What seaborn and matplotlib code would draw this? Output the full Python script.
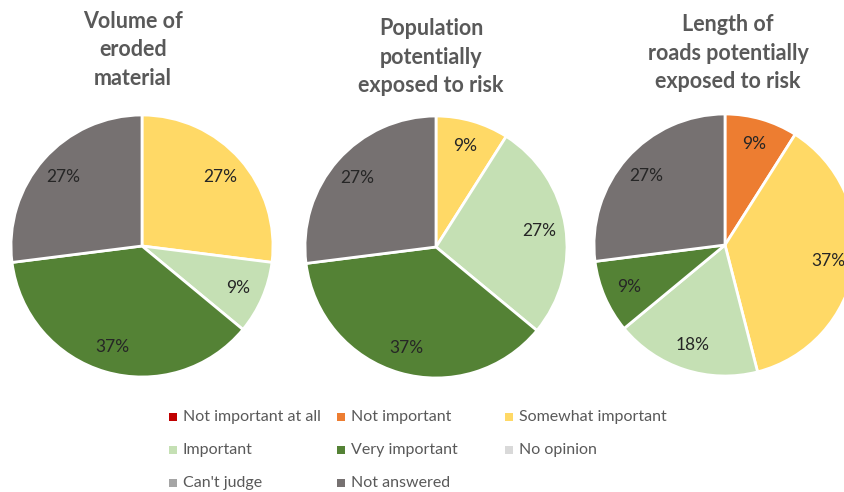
import matplotlib
matplotlib.use("Agg")
import matplotlib.pyplot as plt
import seaborn as sns

sns.set_theme(style="white")
plt.rcParams["font.family"] = ["Lato", "DejaVu Sans"]

categories = ["Not important at all", "Not important", "Somewhat important",
              "Important", "Very important", "No opinion", "Can't judge",
              "Not answered"]
palette = sns.color_palette(["#C00000", "#ED7D31", "#FFD966", "#C5E0B4",
                             "#548235", "#D9D9D9", "#A5A5A5", "#767171"])

titles = ["Volume of\neroded\nmaterial",
          "Population\npotentially\nexposed to risk",
          "Length of\nroads potentially\nexposed to risk"]

# shares (%) per category, in the order of `categories`
eroded_volume = [0, 0, 27, 9, 37, 0, 0, 27]
population_exposed = [0, 0, 9, 27, 37, 0, 0, 27]
roads_exposed = [0, 9, 37, 18, 9, 0, 0, 27]
series = [eroded_volume, population_exposed, roads_exposed]

W, H = 845, 492
fig = plt.figure(figsize=(W / 100, H / 100), dpi=100)
ax = fig.add_axes([0, 0, 1, 1])

centers = [(142, 246), (436, 247), (725, 245)]
radius = 131
title_x = [133, 431, 728]
title_y = [50, 57, 53]

for vals, (cx, cy), title, tx, ty in zip(series, centers, titles, title_x, title_y):
    kept = [(v, palette[i]) for i, v in enumerate(vals) if v > 0]
    ax.pie([v for v, _ in kept], colors=[c for _, c in kept],
           startangle=90, counterclock=False, center=(cx, H - cy),
           radius=radius, autopct=lambda p: f"{p:.0f}%", pctdistance=0.8,
           wedgeprops=dict(edgecolor="white", linewidth=2),
           textprops=dict(fontsize=12.5, color="#262626"))
    ax.text(tx, H - ty, title, ha="center", va="center", fontsize=15.5,
            fontweight="bold", color="#595959", linespacing=1.42)

# legend laid out on a fixed three-column grid
for i, (name, col) in enumerate(zip(categories, palette)):
    c, r = i % 3, i // 3
    x = 173 + c * 168
    y = H - (417 + r * 33)
    ax.scatter([x], [y], marker="s", s=30, color=col, linewidths=0)
    ax.text(x + 10, y, name, ha="left", va="center", fontsize=11.5,
            color="#595959")

ax.set_xlim(0, W)
ax.set_ylim(0, H)
ax.set_aspect("equal")
ax.axis("off")
fig.savefig("out.png", dpi=100)
